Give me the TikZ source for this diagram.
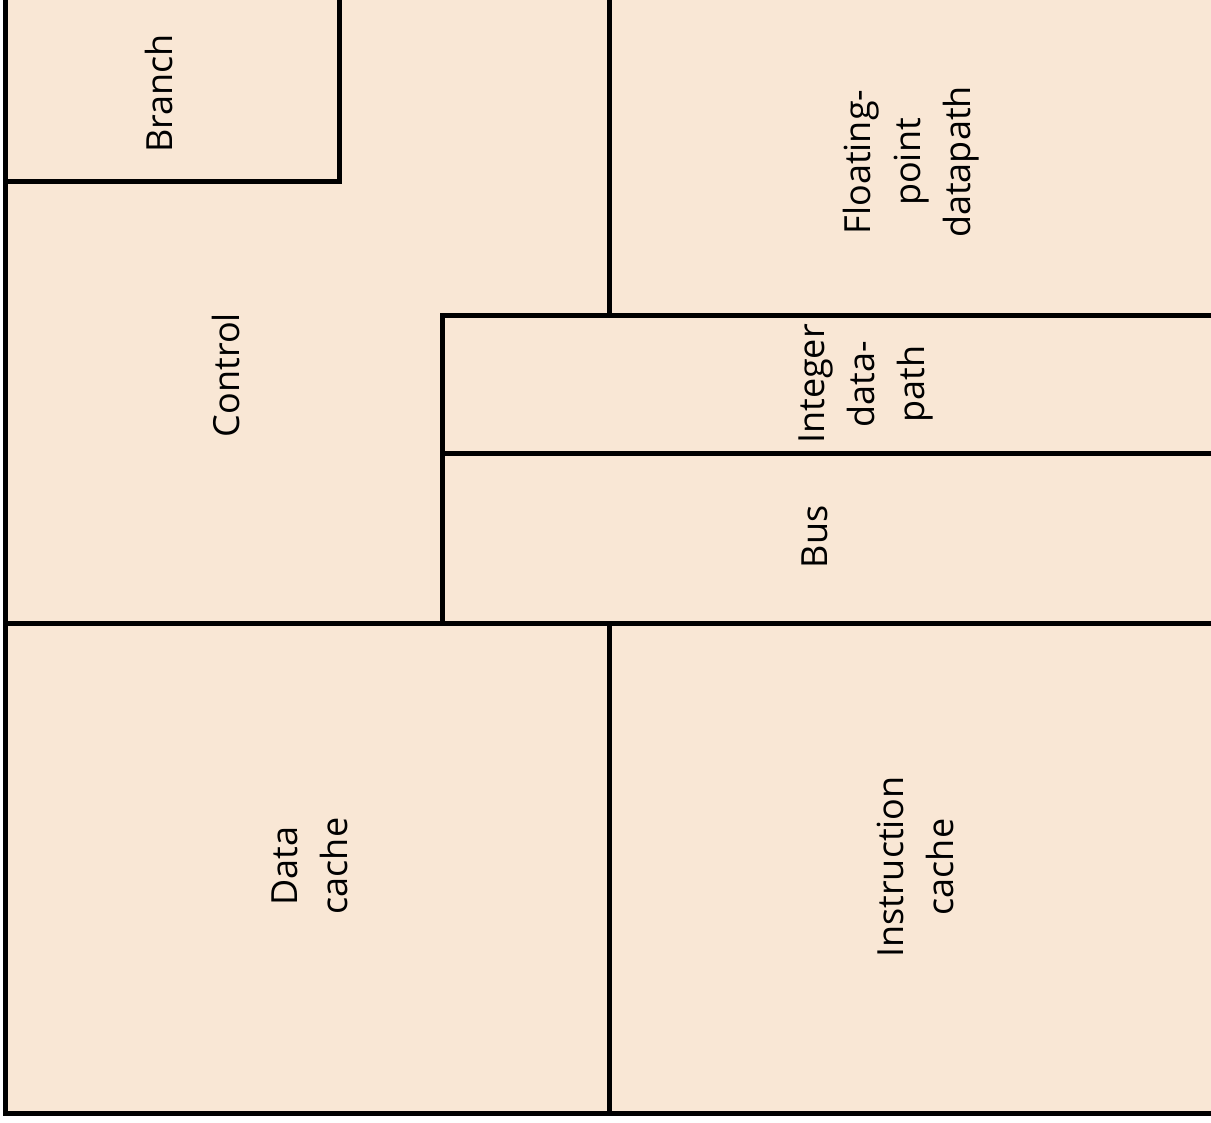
\documentclass[tikz,border=0pt]{standalone}
\usepackage{fontspec}
\setmainfont{Open Sans}
\definecolor{chipfill}{RGB}{249,231,213}
\tikzset{
  wall/.style={line width=5pt, line cap=rect},
  lbl/.style={rotate=90, align=center, inner sep=0pt, font=\fontsize{36}{50}\selectfont}
}
\begin{document}
\begin{tikzpicture}[x=1pt,y=-1pt]
\useasboundingbox (0,0) rectangle (1211,1123);
\begin{scope}
\clip (0,0) rectangle (1211,1123);
\fill[white] (0,0) rectangle (1211,1123);
\fill[chipfill] (5.5,-20) rectangle (1230,1113);
% outer border
\draw[wall] (5.5,-20) -- (5.5,1113) -- (1230,1113);
% branch box
\draw[wall] (5.5,182) -- (339,182) -- (339,-20);
% floating point divider
\draw[wall] (609.5,-20) -- (609.5,316);
% integer / bus
\draw[wall] (1230,316) -- (442.5,316) -- (442.5,623);
\draw[wall] (442.5,453) -- (1230,453);
% middle horizontal
\draw[wall] (5.5,623) -- (1230,623);
% caches divider
\draw[wall] (609.5,623) -- (609.5,1113);
\end{scope}
\node[lbl] (branch) at (159,93.5) {Branch};
\node[lbl] (control) at (226,375) {Control};
\node[lbl] (fp) at (911,162) {Floating-\\point\\datapath};
\node[lbl] (int) at (866,384) {Integer\\data-\\path};
\node[lbl] (bus) at (815,537) {Bus};
\node[lbl] (dcache) at (310,866) {Data\\cache};
\node[lbl] (icache) at (915,867) {Instruction\\cache};
\end{tikzpicture}
\end{document}
